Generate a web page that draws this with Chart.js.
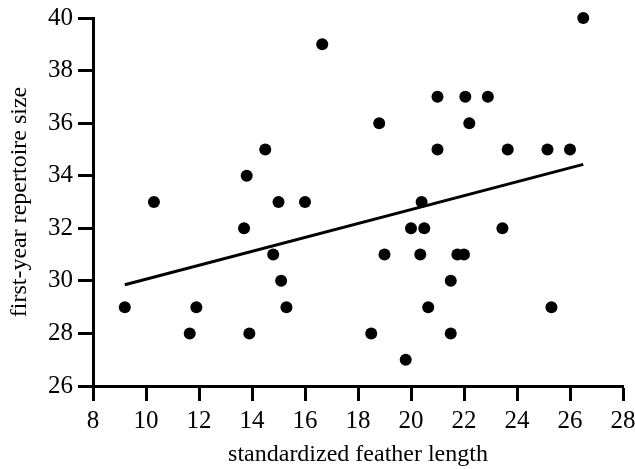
<!DOCTYPE html>
<html lang="en">
<head>
    <meta charset="UTF-8">
    <title>feather length vs repertoire size</title>
    <script src="https://cdn.jsdelivr.net/npm/chart.js"></script>
    <style>
        body { margin: 0; background: #fff; }
        #chart { display: block; }
    </style>
</head>
<body>
    <canvas id="chart" width="635" height="469"></canvas>
    <script>
        // values
        const featherLength = [
            9.2, 10.3, 11.65, 11.9, 13.7, 13.8, 13.9, 14.5, 14.8, 15.0,
            15.1, 15.3, 16.0, 16.65, 18.5, 18.8, 19.0, 19.8, 20.0, 20.35,
            20.4, 20.5, 20.65, 21.0, 21.0, 21.5, 21.5, 21.75, 22.0, 22.05,
            22.2, 22.9, 23.45, 23.65, 25.15, 25.3, 26.0, 26.5
        ];
        const repertoireSize = [
            29, 33, 28, 29, 32, 34, 28, 35, 31, 33,
            30, 29, 33, 39, 28, 36, 31, 27, 32, 31,
            33, 32, 29, 37, 35, 30, 28, 31, 31, 37,
            36, 37, 32, 35, 35, 29, 35, 40
        ];
        // end points of the fitted line
        const fitX = [9.2, 26.5];
        const fitY = [29.85, 34.43];

        const xTicks = { min: 8, max: 28, step: 2 };
        const yTicks = { min: 26, max: 40, step: 2 };

        const tickFont = { family: 'Liberation Serif', size: 25 };
        const titleFont = { family: 'Liberation Serif', size: 24 };

        const ctx = document.getElementById('chart').getContext('2d');
        new Chart(ctx, {
            type: 'scatter',
            data: {
                datasets: [
                    {
                        label: 'birds',
                        data: featherLength.map((x, i) => ({ x: x, y: repertoireSize[i] })),
                        backgroundColor: '#000',
                        borderWidth: 0,
                        pointRadius: 6,
                        pointHoverRadius: 6,
                        clip: false
                    },
                    {
                        type: 'line',
                        label: 'fit',
                        data: fitX.map((x, i) => ({ x: x, y: fitY[i] })),
                        borderColor: '#000',
                        borderWidth: 3,
                        pointRadius: 0,
                        fill: false
                    }
                ]
            },
            options: {
                responsive: false,
                animation: false,
                layout: { padding: { left: 0, top: 18, right: 12, bottom: 0 } },
                plugins: {
                    legend: { display: false },
                    tooltip: { enabled: false }
                },
                scales: {
                    x: {
                        type: 'linear',
                        min: xTicks.min,
                        max: xTicks.max,
                        afterFit: s => {
                            s.height = 83;
                            s.paddingLeft = 0;
                            s.paddingRight = 0;
                        },
                        ticks: {
                            stepSize: xTicks.step,
                            color: '#000',
                            font: tickFont,
                            padding: 5,
                            maxRotation: 0
                        },
                        grid: {
                            drawOnChartArea: false,
                            tickLength: 15,
                            tickWidth: 3,
                            tickColor: '#000'
                        },
                        border: { color: '#000', width: 3 },
                        title: {
                            display: true,
                            text: 'standardized feather length',
                            color: '#000',
                            font: titleFont,
                            padding: { top: 4, bottom: 0 }
                        }
                    },
                    y: {
                        min: yTicks.min,
                        max: yTicks.max,
                        afterFit: s => {
                            s.width = 93;
                            s.paddingTop = 0;
                            s.paddingBottom = 0;
                        },
                        ticks: {
                            stepSize: yTicks.step,
                            color: '#000',
                            font: tickFont,
                            padding: 5
                        },
                        grid: {
                            drawOnChartArea: false,
                            tickLength: 15,
                            tickWidth: 3,
                            tickColor: '#000'
                        },
                        border: { color: '#000', width: 3 },
                        title: {
                            display: true,
                            text: 'first-year repertoire size',
                            color: '#000',
                            font: titleFont,
                            padding: { top: 5, bottom: 0 }
                        }
                    }
                }
            }
        });
    </script>
</body>
</html>
